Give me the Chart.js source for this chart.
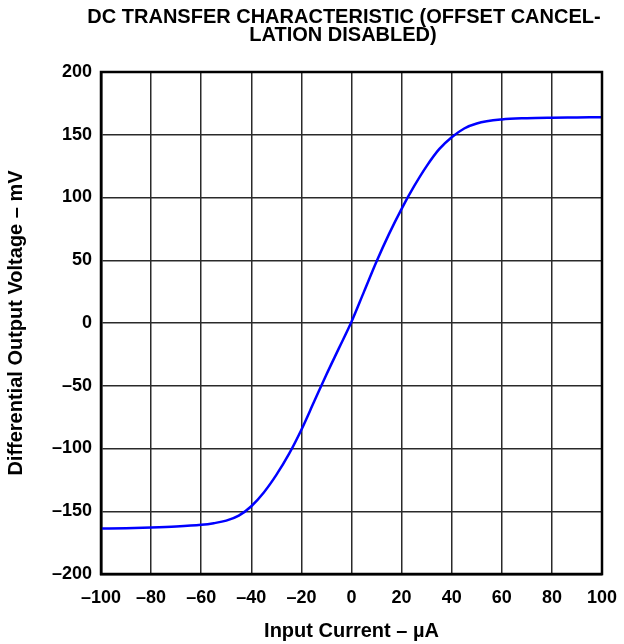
<!DOCTYPE html>
<html>
<head>
<meta charset="utf-8">
<script src="https://cdn.jsdelivr.net/npm/chart.js@4.4.1/dist/chart.umd.min.js"></script>
<style>
  html, body { margin: 0; padding: 0; background: #fff; }
  #wrap { width: 624px; height: 644px; position: relative; }
</style>
</head>
<body>
<div id="wrap"><canvas id="c"></canvas></div>
<script>
// ── data ──
var titleLines = ['DC TRANSFER CHARACTERISTIC (OFFSET CANCEL-', 'LATION DISABLED)'];
var inputCurrent = [-100, -90, -80, -70, -60, -55, -50, -45, -40, -35, -30, -25, -20, -15, -10, -5, 0, 5, 10, 15, 20, 25, 30, 35, 40, 45, 50, 60, 70, 80, 90, 100];
var outputVoltage = [-163.8, -163.5, -163, -162.2, -160.8, -159.5, -157.5, -153.5, -146, -135, -121, -104.5, -85, -63, -41, -20, 1, 25, 49, 71, 91, 109, 125, 138.5, 148, 155, 159, 162.2, 163.2, 163.6, 163.8, 164];
var xTicks = [-100, -80, -60, -40, -20, 0, 20, 40, 60, 80, 100];
var yTicks = [200, 150, 100, 50, 0, -50, -100, -150, -200];

var FONT = "'Liberation Sans', Arial, sans-serif";

function fmt(v){ return v < 0 ? '\u2013' + Math.abs(v) : String(v); }

var points = inputCurrent.map(function(x, i){ return { x: x, y: outputVoltage[i] }; });

// two-line title, drawn by hand so it sits where the reference has it
var titlePlugin = {
  id: 'plotTitle',
  afterDraw: function(chart){
    var ctx = chart.ctx;
    ctx.save();
    ctx.fillStyle = '#000';
    ctx.font = 'bold 20px ' + FONT;
    ctx.textAlign = 'center';
    ctx.textBaseline = 'middle';
    ctx.fillText(titleLines[0], 344, 17);
    ctx.fillText(titleLines[1], 343, 35);
    ctx.restore();
  }
};

new Chart(document.getElementById('c'), {
  type: 'scatter',
  data: {
    datasets: [{
      data: points,
      showLine: true,
      borderColor: '#0000ff',
      borderWidth: 2.5,
      pointRadius: 0,
      cubicInterpolationMode: 'monotone',
      fill: false
    }]
  },
  options: {
    responsive: true,
    maintainAspectRatio: false,
    animation: false,
    layout: { padding: { top: 72, right: 22, bottom: 0, left: 0 } },
    plugins: { legend: { display: false }, tooltip: { enabled: false } },
    scales: {
      x: {
        type: 'linear', min: -100, max: 100,
        afterBuildTicks: function(s){ s.ticks = xTicks.map(function(v){ return { value: v }; }); },
        afterFit: function(s){ s.height = 70; s.paddingLeft = 0; s.paddingRight = 0; },
        grid: { color: '#2a2a2a', lineWidth: 1.5, drawTicks: false },
        border: { color: '#000', width: 2.5 },
        ticks: { color: '#000', padding: 13, maxRotation: 0, autoSkip: false,
                 font: { family: FONT, size: 18, weight: 'bold' }, callback: fmt },
        title: { display: true, text: 'Input Current \u2013 \u00b5A', color: '#000',
                 font: { family: FONT, size: 20, weight: 'bold' }, padding: { top: 4, bottom: 1 } }
      },
      y: {
        type: 'linear', min: -200, max: 200,
        afterBuildTicks: function(s){ s.ticks = yTicks.map(function(v){ return { value: v }; }); },
        afterFit: function(s){ s.width = 101; s.paddingTop = 0; s.paddingBottom = 0; },
        grid: { color: '#2a2a2a', lineWidth: 1.5, drawTicks: false },
        border: { color: '#000', width: 2.5 },
        ticks: { color: '#000', padding: 9, autoSkip: false,
                 font: { family: FONT, size: 18, weight: 'bold' }, callback: fmt },
        title: { display: true, text: 'Differential Output Voltage \u2013 mV', color: '#000',
                 font: { family: FONT, size: 20, weight: 'bold' }, padding: { top: 4, bottom: 4 } }
      }
    }
  },
  plugins: [titlePlugin, {
    id: 'frame',
    afterDraw: function(chart){
      var ctx = chart.ctx, a = chart.chartArea;
      ctx.save();
      ctx.strokeStyle = '#000';
      ctx.lineWidth = 2.5;
      ctx.strokeRect(a.left, a.top, a.right - a.left, a.bottom - a.top);
      ctx.restore();
    }
  }]
});
</script>
</body>
</html>
